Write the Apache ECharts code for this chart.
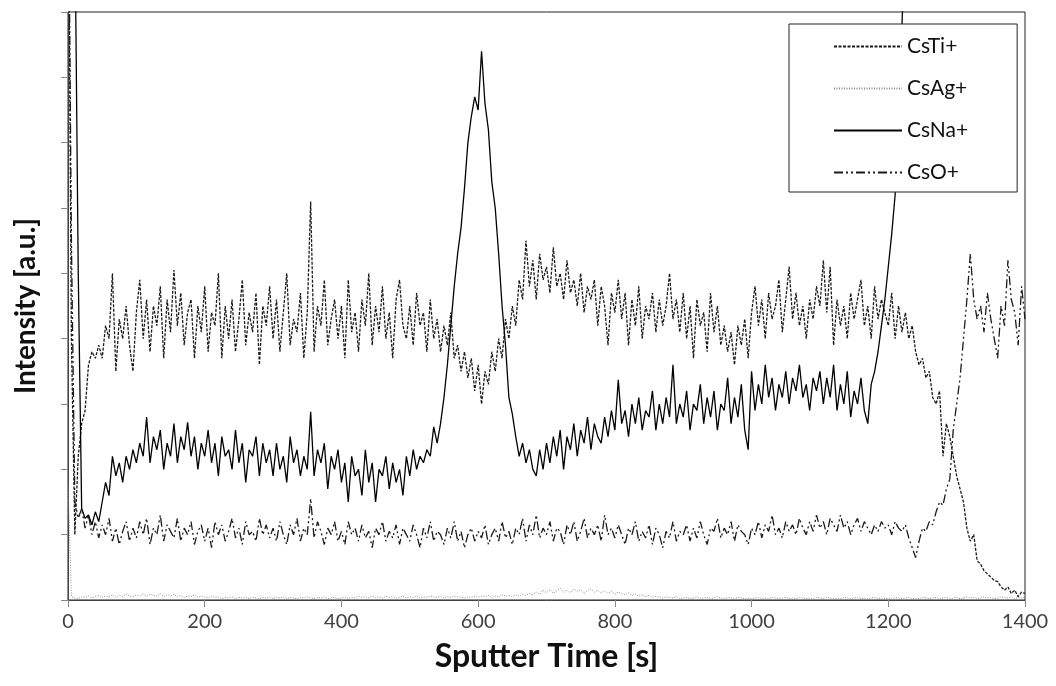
<!DOCTYPE html>
<html>
<head>
<meta charset="utf-8">
<script src="https://cdn.jsdelivr.net/npm/echarts@6/dist/echarts.min.js"></script>
<style>
  html, body { margin: 0; padding: 0; background: #fff; }
  #chart { width: 1056px; height: 686px; }
</style>
</head>
<body>
<div id="chart"></div>
<script>
// sampling step of the depth profile (s)
const step = 5

// CsTi+ intensity, one value every 5 s from 0 s
const csTi = [
  12, 4.0, 1.0, 2.2, 2.7, 2.9, 3.6, 3.8, 3.7, 3.9, 3.7, 4.2, 4.0, 5.0, 3.5, 4.3, 4.0, 4.5, 3.9, 3.5,
  4.4, 4.9, 4.0, 4.6, 3.8, 4.5, 4.2, 4.8, 3.7, 4.6, 4.1, 5.05, 4.2, 4.7, 3.9, 4.4, 4.6, 3.7, 4.5, 4.1,
  4.8, 3.8, 4.4, 4.2, 5.0, 3.7, 4.5, 4.0, 4.6, 3.8, 4.3, 4.9, 3.9, 4.4, 4.1, 4.7, 3.6, 4.5, 4.2, 4.8,
  4.0, 4.6, 3.8, 4.4, 5.0, 3.9, 4.3, 4.1, 4.7, 3.7, 4.4, 6.1, 3.8, 4.5, 4.2, 4.9, 3.9, 4.3, 4.6, 4.0,
  4.5, 3.7, 4.9, 4.1, 4.4, 3.8, 4.6, 4.2, 5.0, 3.9, 4.5, 4.1, 4.8, 4.0, 4.4, 3.7, 4.6, 4.9, 4.2, 4.0,
  4.5, 3.9, 4.7, 4.2, 4.4, 3.8, 4.6, 4.0, 4.3, 3.8, 4.2, 3.9, 4.4, 3.7, 3.9, 3.5, 3.8, 3.4, 3.7, 3.2,
  3.6, 3.0, 3.5, 3.3, 3.8, 3.5, 4.0, 3.7, 4.3, 4.0, 4.5, 4.2, 4.9, 4.6, 5.5, 4.8, 5.2, 4.6, 5.3, 4.9,
  5.1, 4.7, 5.4, 4.8, 5.0, 4.6, 5.2, 4.7, 4.9, 4.5, 5.0, 4.4, 4.8, 4.6, 4.9, 4.2, 4.8, 4.5, 3.9, 4.7,
  4.4, 4.9, 4.3, 4.7, 3.9, 4.6, 4.2, 4.8, 4.0, 4.5, 4.3, 4.7, 4.1, 4.6, 4.2, 4.5, 5.0, 4.3, 4.6, 4.1,
  4.7, 4.0, 4.5, 3.7, 4.6, 4.2, 4.4, 3.8, 4.7, 4.1, 4.5, 3.9, 4.2, 3.8, 4.1, 3.6, 4.2, 3.9, 4.3, 3.7,
  4.4, 4.8, 4.2, 4.6, 4.0, 4.7, 4.3, 4.5, 4.9, 4.1, 4.6, 5.1, 4.3, 4.7, 4.2, 4.5, 4.0, 4.6, 4.3, 4.8,
  4.5, 5.2, 4.4, 5.1, 3.9, 4.6, 4.2, 4.5, 4.0, 4.7, 4.3, 4.6, 4.9, 4.2, 4.5, 4.0, 4.8, 4.3, 4.6, 4.4,
  4.2, 4.7, 4.0, 4.5, 4.1, 4.4, 4.0, 4.2, 3.8, 3.6, 3.7, 3.4, 3.5, 3.1, 3.0, 3.2, 2.2, 2.7, 2.5, 2.2,
  1.9, 1.7, 1.5, 1.1, 0.9, 1.0, 0.6, 0.55, 0.45, 0.4, 0.35, 0.3, 0.28, 0.2, 0.15, 0.2, 0.1, 0.15, 0.05, 0.12,
  0.1
]

// CsAg+ intensity
const csAg = [
  1.8, 0.05, 0.03, 0.02, 0.05, 0.04, 0.06, 0.03, 0.05, 0.07, 0.04, 0.06, 0.05, 0.08, 0.04, 0.07, 0.05, 0.09, 0.06, 0.05,
  0.08, 0.06, 0.1, 0.05, 0.09, 0.07, 0.06, 0.1, 0.05, 0.08, 0.06, 0.09, 0.05, 0.07, 0.04, 0.06, 0.05, 0.08, 0.04, 0.06,
  0.05, 0.03, 0.06, 0.04, 0.05, 0.02, 0.04, 0.03, 0.05, 0.02, 0.04, 0.03, 0.05, 0.02, 0.04, 0.03, 0.02, 0.04, 0.03, 0.05,
  0.02, 0.04, 0.03, 0.05, 0.02, 0.04, 0.03, 0.02, 0.04, 0.03, 0.05, 0.03, 0.02, 0.04, 0.03, 0.05, 0.02, 0.03, 0.04, 0.02,
  0.03, 0.05, 0.02, 0.04, 0.03, 0.06, 0.04, 0.05, 0.03, 0.06, 0.04, 0.05, 0.03, 0.06, 0.04, 0.05, 0.03, 0.04, 0.06, 0.03,
  0.05, 0.04, 0.06, 0.03, 0.05, 0.04, 0.06, 0.05, 0.04, 0.06, 0.03, 0.05, 0.04, 0.06, 0.05, 0.04, 0.03, 0.05, 0.04, 0.06,
  0.04, 0.06, 0.05, 0.07, 0.04, 0.06, 0.05, 0.08, 0.06, 0.07, 0.05, 0.08, 0.06, 0.09, 0.07, 0.1, 0.08, 0.12, 0.09, 0.15,
  0.11, 0.16, 0.1, 0.14, 0.18, 0.12, 0.15, 0.11, 0.17, 0.13, 0.16, 0.1, 0.14, 0.17, 0.12, 0.15, 0.11, 0.14, 0.1, 0.13,
  0.09, 0.12, 0.1, 0.08, 0.11, 0.07, 0.09, 0.06, 0.08, 0.05, 0.07, 0.04, 0.06, 0.05, 0.03, 0.05, 0.04, 0.03, 0.05, 0.02,
  0.03, 0.04, 0.02, 0.03, 0.05, 0.02, 0.03, 0.04, 0.02, 0.03, 0.05, 0.03, 0.02, 0.04, 0.03, 0.02, 0.04, 0.03, 0.02, 0.03,
  0.02, 0.03, 0.04, 0.02, 0.03, 0.02, 0.04, 0.03, 0.02, 0.03, 0.04, 0.02, 0.03, 0.02, 0.04, 0.03, 0.02, 0.03, 0.02, 0.04,
  0.03, 0.02, 0.04, 0.03, 0.02, 0.03, 0.02, 0.04, 0.03, 0.02, 0.03, 0.04, 0.02, 0.03, 0.02, 0.03, 0.04, 0.02, 0.03, 0.02,
  0.03, 0.02, 0.04, 0.03, 0.02, 0.03, 0.04, 0.02, 0.03, 0.02, 0.04, 0.03, 0.02, 0.03, 0.04, 0.02, 0.03, 0.04, 0.02, 0.03,
  0.04, 0.02, 0.03, 0.05, 0.03, 0.04, 0.02, 0.03, 0.05, 0.03, 0.04, 0.02, 0.03, 0.05, 0.04, 0.03, 0.05, 0.02, 0.04, 0.03,
  0.04
]

// CsNa+ intensity (leaves the top of the frame after ~1220 s)
const csNa = [
  20, 15, 10.5, 5.0, 1.4, 1.25, 1.3, 1.15, 1.35, 1.2, 1.5, 1.8, 1.6, 2.2, 1.9, 2.1, 1.8, 2.2, 2.0, 2.3,
  2.1, 2.4, 2.2, 2.8, 2.1, 2.5, 2.3, 2.6, 2.0, 2.4, 2.2, 2.7, 2.1, 2.5, 2.3, 2.72, 2.2, 2.5, 2.0, 2.4,
  2.2, 2.6, 2.1, 2.4, 1.9, 2.5, 2.2, 2.3, 2.0, 2.6, 2.1, 2.4, 1.8, 2.3, 2.2, 2.5, 1.9, 2.4, 2.1, 2.3,
  1.9, 2.4, 2.0, 2.2, 1.8, 2.5, 2.1, 2.3, 1.9, 2.2, 2.0, 2.88, 1.9, 2.3, 2.1, 2.4, 1.7, 2.2, 2.0, 2.3,
  1.8, 2.1, 1.5, 2.2, 1.9, 2.0, 1.6, 2.3, 1.8, 2.1, 1.5, 2.0, 1.9, 2.2, 1.7, 2.1, 1.8, 2.0, 1.6, 2.2,
  1.9, 2.3, 2.0, 2.2, 2.1, 2.3, 2.2, 2.65, 2.4, 2.7, 3.1, 3.6, 4.2, 4.8, 5.3, 5.7, 6.3, 7.0, 7.4, 7.7,
  7.5, 8.4, 7.6, 7.2, 6.4, 6.0, 5.3, 4.5, 3.9, 3.1, 2.85, 2.5, 2.2, 2.4, 2.1, 2.3, 2.0, 1.9, 2.3, 2.0,
  2.4, 2.1, 2.5, 2.2, 2.6, 2.0, 2.5, 2.3, 2.7, 2.2, 2.6, 2.4, 2.8, 2.3, 2.7, 2.5, 2.4, 2.8, 2.5, 2.9,
  2.6, 3.37, 2.7, 2.9, 2.5, 3.0, 2.7, 3.1, 2.6, 2.9, 2.8, 3.2, 2.6, 3.0, 2.7, 3.1, 2.8, 3.6, 2.7, 3.0,
  2.8, 3.2, 2.6, 3.0, 2.9, 3.3, 2.7, 3.1, 2.8, 3.2, 2.6, 3.0, 2.9, 3.4, 2.7, 3.1, 2.8, 3.3, 2.6, 2.3,
  3.5, 2.9, 3.3, 3.0, 3.6, 3.1, 3.4, 2.9, 3.3, 3.1, 3.5, 3.0, 3.4, 3.2, 3.6, 3.1, 3.3, 2.9, 3.4, 3.2,
  3.5, 3.0, 3.4, 3.1, 3.6, 2.9, 3.3, 3.0, 3.5, 2.8, 3.2, 3.0, 3.4, 2.9, 2.7, 3.3, 3.5, 3.8, 4.2, 4.6,
  5.1, 5.6, 6.2, 7.5, 8.8, 10.2, 11.5
]

// CsO+ intensity
const csO = [
  12, 5.5, 1.5, 1.25, 1.4, 1.1, 1.3, 1.0, 1.2, 0.95, 1.15, 1.0, 1.25, 0.9, 1.1, 0.85, 1.05, 1.2, 0.9, 1.1,
  0.95, 1.2, 1.0, 1.25, 0.85, 1.1, 1.0, 1.3, 0.9, 1.15, 1.05, 0.95, 1.25, 0.9, 1.1, 1.0, 1.2, 0.85, 1.05, 1.15,
  0.9, 1.1, 0.8, 1.2, 1.0, 1.15, 0.9, 1.05, 1.25, 0.95, 1.1, 0.85, 1.2, 1.0, 1.05, 0.9, 1.25, 1.0, 1.15, 0.95,
  1.1, 0.9, 1.2, 1.0, 0.85, 1.15, 1.0, 1.25, 0.9, 1.1, 1.0, 1.55, 0.95, 1.2, 1.05, 0.85, 1.1, 1.0, 1.2, 0.9,
  1.05, 0.85, 1.2, 1.0, 1.1, 0.9, 1.15, 0.95, 1.05, 0.8, 1.1, 1.0, 1.2, 0.9, 1.05, 0.95, 1.15, 0.85, 1.1, 1.0,
  0.9, 1.15, 1.0, 0.8, 1.1, 0.95, 1.2, 0.9, 1.05, 1.0, 0.85, 1.1, 0.95, 1.2, 0.9, 1.05, 0.8, 1.0, 1.1, 0.9,
  1.05, 0.95, 1.15, 0.85, 1.0, 1.1, 0.9, 1.2, 0.95, 1.05, 0.85, 1.1, 1.0, 1.25, 0.9, 1.15, 1.0, 1.3, 0.95, 1.1,
  1.0, 1.2, 0.9, 1.1, 1.05, 0.85, 1.15, 1.0, 1.2, 0.9, 1.05, 1.25, 0.95, 1.1, 1.0, 1.15, 0.9, 1.3, 1.0, 1.1,
  0.95, 1.15, 1.0, 0.85, 1.1, 1.0, 1.2, 0.9, 1.05, 0.95, 1.15, 0.85, 1.1, 1.0, 0.8, 1.05, 0.95, 1.2, 0.9, 1.05,
  1.0, 1.15, 0.9, 1.1, 0.95, 1.2, 1.0, 0.85, 1.1, 1.05, 1.25, 0.95, 1.1, 1.0, 1.2, 0.9, 1.15, 1.05, 1.0, 0.85,
  1.1, 1.0, 1.2, 0.95, 1.15, 1.05, 1.3, 1.0, 1.1, 0.95, 1.2, 1.05, 1.15, 1.0, 1.25, 1.1, 1.0, 1.2, 1.05, 1.3,
  1.1, 1.2, 1.0, 1.25, 1.15, 1.05, 1.3, 1.1, 1.2, 1.0, 1.15, 1.25, 1.05, 1.2, 1.1, 1.0, 1.15, 1.05, 1.2, 1.1,
  1.15, 1.0, 1.2, 1.1, 1.05, 1.15, 0.95, 0.8, 0.65, 0.9, 1.1, 1.05, 1.2, 1.15, 1.35, 1.5, 1.45, 1.7, 1.85, 2.6,
  3.0, 3.4, 4.0, 4.6, 5.3, 4.6, 4.3, 4.5, 4.1, 4.7, 4.3, 4.0, 3.7, 4.5, 4.2, 5.2, 4.6, 4.4, 3.9, 4.8,
  4.3
]

const xTicks = [0, 200, 400, 600, 800, 1000, 1200, 1400]

function toPoints(values) {
  return values.map((v, i) => [i * step, v])
}

const font = 'Lato, "Noto Sans", sans-serif'
const chart = echarts.init(document.getElementById('chart'))

chart.setOption({
  animation: false,
  backgroundColor: '#fff',
  grid: {
    left: 68,
    right: 31,
    top: 12,
    bottom: 86,
    show: true,
    borderColor: '#222',
    borderWidth: 1
  },
  legend: {
    orient: 'vertical',
    left: 789,
    top: 24,
    itemWidth: 68,
    itemHeight: 10,
    itemGap: 21,
    padding: [12, 49, 9, 44],
    backgroundColor: '#fff',
    borderColor: '#222',
    borderWidth: 1,
    borderRadius: 0,
    // hide the round marker, keep only the line sample
    itemStyle: { opacity: 0 },
    textStyle: { fontFamily: font, fontSize: 21, color: '#111' }
  },
  xAxis: {
    type: 'value',
    min: xTicks[0],
    max: xTicks[xTicks.length - 1],
    interval: 200,
    name: 'Sputter Time [s]',
    nameLocation: 'middle',
    nameGap: 41,
    nameTextStyle: { fontFamily: font, fontSize: 32, fontWeight: 'bold', color: '#111' },
    axisLine: { lineStyle: { color: '#444', width: 1 } },
    axisTick: { show: true, length: 7, lineStyle: { color: '#888' } },
    axisLabel: { fontFamily: font, fontSize: 20, color: '#404040', margin: 12, formatter: v => String(v) },
    splitLine: { show: false }
  },
  yAxis: {
    type: 'value',
    min: 0,
    max: 9,
    interval: 1,
    name: 'Intensity [a.u.]',
    nameLocation: 'middle',
    nameGap: 28,
    nameTextStyle: { fontFamily: font, fontSize: 28, fontWeight: 'bold', color: '#111' },
    axisLine: { show: true, lineStyle: { color: '#444', width: 1 } },
    axisTick: { show: true, length: 7, lineStyle: { color: '#888' } },
    axisLabel: { show: false },
    splitLine: { show: false }
  },
  series: [
    {
      name: 'CsTi+',
      type: 'line',
      data: toPoints(csTi),
      symbol: 'none',
      lineStyle: { color: '#1a1a1a', width: 1.3, type: [3, 1.5] }
    },
    {
      name: 'CsAg+',
      type: 'line',
      data: toPoints(csAg),
      symbol: 'none',
      lineStyle: { color: '#8a8a8a', width: 1, type: [1, 1.5] }
    },
    {
      name: 'CsNa+',
      type: 'line',
      data: toPoints(csNa),
      symbol: 'none',
      lineStyle: { color: '#000', width: 1.3, type: 'solid' }
    },
    {
      name: 'CsO+',
      type: 'line',
      data: toPoints(csO),
      symbol: 'none',
      lineStyle: { color: '#1a1a1a', width: 1.3, type: [9, 3, 2, 3, 2, 3] }
    }
  ]
})
</script>
</body>
</html>
